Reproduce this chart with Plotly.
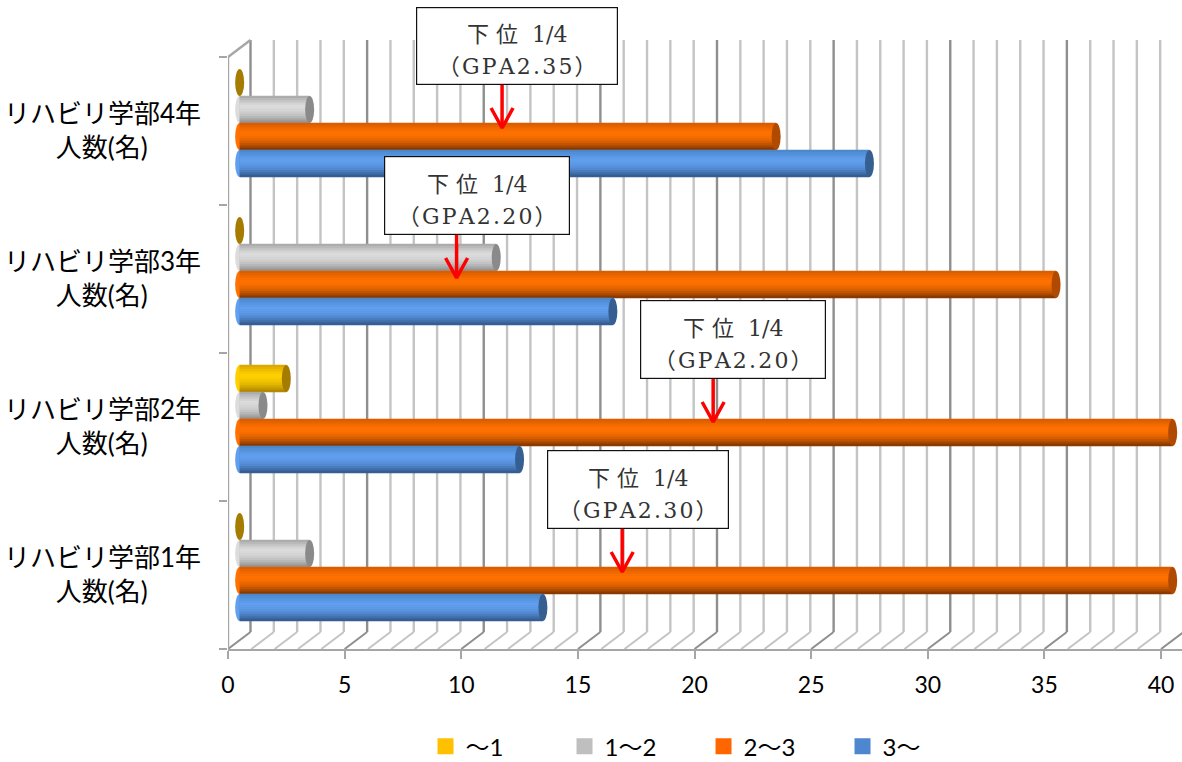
import plotly.graph_objects as go

categories = ["リハビリ学部1年", "リハビリ学部2年", "リハビリ学部3年", "リハビリ学部4年"]
series_names = ["〜1", "1〜2", "2〜3", "3〜"]
v_low = [0, 2, 0, 0]
v_12 = [3, 1, 11, 3]
v_23 = [40, 40, 35, 23]
v_3up = [13, 12, 16, 27]
x_ticks = [0, 5, 10, 15, 20, 25, 30, 35, 40]

gpa_labels = ["（GPA2.30）", "（GPA2.20）", "（GPA2.20）", "（GPA2.35）"]
gpa_head = "下 位  1/4"
gpa_values = [16.9, 20.8, 9.8, 11.75]

# pixel geometry of the picture
PX0, PXU = 228.0, 23.325
PY0, PYU = 649.0, 148.0
W, H = 1182, 762
def dx(p): return p / PXU
def dy(p): return p / PYU
def X(px): return (px - PX0) / PXU
def Y(py): return (PY0 - py) / PYU

series = [
    (v_low, ("#d9a400", "#ffd000", "#a88000"), "#a67c00"),
    (v_12, ("#a6a6a6", "#dcdcdc", "#8c8c8c"), "#8a8a8a"),
    (v_23, ("#d85a00", "#ff7200", "#7a3300"), "#b04a00"),
    (v_3up, ("#4a86c8", "#619fef", "#2f5585"), "#355f90"),
]
flat = ["#ffc000", "#bfbfbf", "#ff6600", "#4f86d0"]

def hex2(c): return [int(c[i:i + 2], 16) for i in (1, 3, 5)]
def mix(a, b, t):
    A, B = hex2(a), hex2(b)
    return "rgb(%d,%d,%d)" % tuple(A[i] + (B[i] - A[i]) * t for i in range(3))
def grad(stops, t):
    return mix(stops[0], stops[1], t / 0.35) if t < 0.35 else mix(stops[1], stops[2], ((t - 0.35) / 0.65) ** 2)

BASE = 0.5
THICK = dy(27)
CENTER = dy(8)
STRIPS = 12
CAP = dx(4.5)
DEPTH = 22.5 / PXU

fig = go.Figure()
shapes = []
# back wall grid and floor diagonals
for i in range(41):
    col = "#8f8f8f" if i % 5 == 0 else "#c4c4c4"
    back_y = dy(17)
    shapes.append(dict(type="line", xref="x", yref="y", x0=i + DEPTH, x1=i + DEPTH, y0=back_y, y1=Y(40),
                       line=dict(color=col, width=2.4), layer="below"))
    shapes.append(dict(type="line", xref="x", yref="y", x0=i, x1=i + DEPTH, y0=0, y1=back_y,
                       line=dict(color=col, width=2), layer="below"))
# left wall
shapes.append(dict(type="line", xref="x", yref="y", x0=0, x1=0, y0=0, y1=4, line=dict(color="#a6a6a6", width=2.4), layer="below"))
shapes.append(dict(type="line", xref="x", yref="y", x0=0, x1=DEPTH, y0=4, y1=4 + dy(17), line=dict(color="#a6a6a6", width=2.4), layer="below"))

for s, (vals, stops, cap) in enumerate(series):
    ys = [g + 0.5 + CENTER + (1.5 - s) * THICK for g in range(4)]
    fig.add_trace(go.Bar(y=ys, x=vals, base=BASE, width=THICK, orientation="h", name=series_names[s],
                         marker=dict(color=flat[s], line=dict(width=0)), showlegend=False, hoverinfo="skip"))
    for k in range(STRIPS):
        t = (k + 0.5) / STRIPS
        h = THICK / STRIPS
        fig.add_trace(go.Bar(y=[y + THICK / 2 - t * THICK for y in ys], x=vals, base=BASE, width=h * 1.15, orientation="h",
                             marker=dict(color=grad(stops, t), line=dict(width=0)), showlegend=False, hoverinfo="skip"))
    for y, v in zip(ys, vals):
        if v > 0:
            shapes.append(dict(type="circle", xref="x", yref="y", x0=BASE - CAP, x1=BASE + CAP, y0=y - THICK / 2, y1=y + THICK / 2,
                               fillcolor=grad(stops, 0.35), line=dict(width=0), layer="below"))
        shapes.append(dict(type="circle", xref="x", yref="y", x0=BASE + v - CAP, x1=BASE + v + CAP, y0=y - THICK / 2, y1=y + THICK / 2,
                           fillcolor=cap, line=dict(width=0), layer="above"))
    fig.add_trace(go.Scatter(x=[None], y=[None], mode="markers", name=series_names[s],
                             marker=dict(symbol="square", size=16, color=flat[s]), hoverinfo="skip"))

# boxes and arrows
boxes = [(547, 729, 450, 529), (640, 826, 300, 379), (384, 570, 156, 235), (416, 618, 7, 85)]
anns = []
ax, ay = [], []
for label, val, (l, r, t, b) in zip(gpa_labels, gpa_values, boxes):
    spaced = "\u200a".join(label)
    text = '<span style="font-size:22px">%s<br>%s</span>' % (gpa_head, spaced)
    anns.append(dict(xref="x", yref="y", x=X((l + r) / 2), y=Y((t + b) / 2), xanchor="center", yanchor="middle",
                     text=text, showarrow=False, width=r - l - 12, height=b - t - 12, bgcolor="#ffffff", bordercolor="#111111",
                     borderwidth=1.2, borderpad=5, align="center", valign="bottom",
                     font=dict(family="'DejaVu Serif','Noto Sans CJK JP',serif", size=25, color="#333333")))
    tip = b + 43
    ax += [val, val, None, val - dx(11), val, val + dx(11), None]
    ay += [Y(b), Y(tip), None, Y(tip - 20), Y(tip), Y(tip - 20), None]
fig.add_trace(go.Scatter(x=ax, y=ay, mode="lines", line=dict(color="#ff0000", width=3.5), showlegend=False, hoverinfo="skip"))

pad = "\u00a0" * 8
fig.update_layout(
    width=W, height=H, barmode="overlay", paper_bgcolor="white", plot_bgcolor="white",
    margin=dict(l=228, r=0, t=0, b=H - 649, pad=0),
    font=dict(family="Lato,'Noto Sans CJK JP',sans-serif", color="#000000"),
    shapes=shapes, annotations=anns,
    xaxis=dict(range=[0, (W - PX0) / PXU], tickvals=x_ticks, showgrid=False, zeroline=False, showline=True, linecolor="#a6a6a6",
               linewidth=2.4, ticks="outside", ticklen=8, tickwidth=2, tickcolor="#a6a6a6", tickfont=dict(size=23), ticklabelstandoff=6),
    yaxis=dict(range=[0, PY0 / PYU], tickvals=[0.5, 1.5, 2.5, 3.5], ticktext=[c + "<br>人数(名)" + pad for c in categories],
               showgrid=False, zeroline=False, showline=False, ticks="", tickfont=dict(size=26), ticklabelstandoff=26,
               minor=dict(tickvals=[0, 1, 2, 3, 4], ticks="outside", ticklen=8, tickwidth=2, tickcolor="#a6a6a6", showgrid=False)),
    legend=dict(orientation="h", x=0.36, xanchor="left", xref="container", y=0.02, yanchor="middle", yref="container",
                font=dict(size=24), traceorder="normal", itemwidth=30, entrywidthmode="pixels", entrywidth=94),
)
fig.write_html("out.html", config={"displayModeBar": False},
               post_script="document.body.style.margin='0';document.documentElement.style.overflow='hidden';")
